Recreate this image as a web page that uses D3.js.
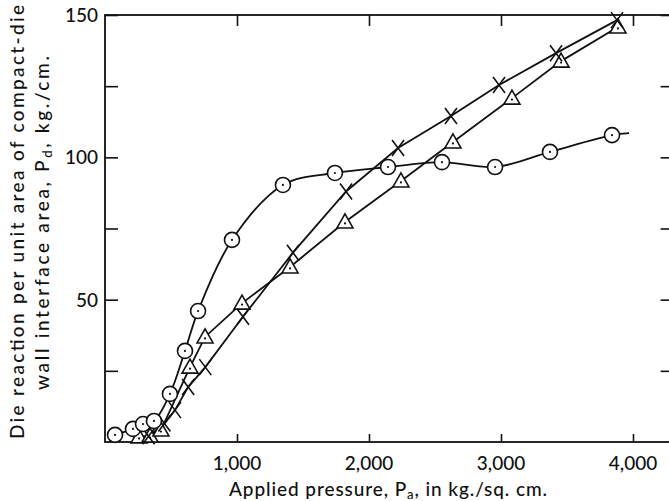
<!DOCTYPE html>
<html>
<head>
<meta charset="utf-8">
<script src="https://cdn.jsdelivr.net/npm/d3@7"></script>
<style>
    body { margin: 0; background: #fff; }
    svg { display: block; }
    text { font-family: Lato, "Open Sans", sans-serif; fill: #111; }
</style>
</head>
<body>
<div id="chart"></div>
<script>
// ---------------------------------------------------------------------------- //
//                                     Data                                     //
// ---------------------------------------------------------------------------- //
// applied pressure (kg./sq. cm.) and die reaction (kg./cm.)
var circleX = [76, 212, 288, 371, 492, 606, 705, 962, 1348, 1742, 2144, 2553, 2955, 3371, 3841];
var circleY = [2.5, 4.6, 6.3, 7.4, 16.9, 32, 46, 71, 90.3, 94.5, 96.6, 98.3, 96.6, 101.9, 107.8];

var crossX = [330, 450, 530, 630, 760, 1045, 1424, 1826, 2220, 2621, 2985, 3417, 3879];
var crossY = [2, 6.5, 11.2, 19.3, 26.3, 44, 66.5, 88, 103.3, 114.5, 125.4, 136.6, 148.2];

var triX = [258, 341, 424, 644, 758, 1038, 1402, 1818, 2242, 2636, 3083, 3455, 3886];
var triY = [1.8, 2.1, 4.2, 26.3, 36.9, 48.8, 61.5, 77.3, 91.7, 105.4, 120.8, 133.8, 145.8];

var xTicks = [1000, 2000, 3000, 4000];
var xTickLabels = ['1,000', '2,000', '3,000', '4,000'];
var yTicks = [25, 50, 75, 100, 125, 150];
var yTickLabels = [50, 100, 150];

// circle curve runs a little past its last point
var circleTailX = 3970;
var circleTailY = 108.5;

// ---------------------------------------------------------------------------- //
//                                    Layout                                    //
// ---------------------------------------------------------------------------- //
var W = 669, H = 501;
var plotLeft = 105, plotTop = 15, plotBottom = 442;
var PX_PER_KG = 0.132;      // horizontal pixels per kg./sq. cm.
var X_DOMAIN_MAX = 4300;    // frame runs off the right side of the picture

var svg = d3.select("#chart")
    .append("svg")
    .attr("width", W)
    .attr("height", H);

var x = d3.scaleLinear()
    .domain([0, X_DOMAIN_MAX])
    .range([plotLeft, plotLeft + X_DOMAIN_MAX * PX_PER_KG]);

var y = d3.scaleLinear()
    .domain([0, 150])
    .range([plotBottom, plotTop]);

var plotRight = x(X_DOMAIN_MAX);

// Frame
//_______________
svg.append("rect")
    .attr("x", plotLeft)
    .attr("y", plotTop)
    .attr("width", plotRight - plotLeft)
    .attr("height", plotBottom - plotTop)
    .attr("fill", "none")
    .attr("stroke", "#111")
    .attr("stroke-width", 1.8);

// Axes (ticks point inward)
//_______________
function styleAxis(g){
    g.select(".domain").remove();
    g.selectAll(".tick line").attr("stroke", "#111").attr("stroke-width", 1.6);
    g.selectAll(".tick text").remove();
}

svg.append("g")
    .attr("transform", "translate(0," + plotBottom + ")")
    .call(d3.axisBottom(x).tickValues(xTicks).tickSize(-8))
    .call(styleAxis);

svg.append("g")
    .attr("transform", "translate(0," + plotTop + ")")
    .call(d3.axisTop(x).tickValues(xTicks).tickSize(-11))
    .call(styleAxis);

svg.append("g")
    .attr("transform", "translate(" + plotLeft + ",0)")
    .call(d3.axisLeft(y).tickValues(yTicks).tickSize(-13))
    .call(styleAxis);

svg.append("g")
    .attr("transform", "translate(" + plotRight + ",0)")
    .call(d3.axisRight(y).tickValues(yTicks).tickSize(-12))
    .call(styleAxis);

// Tick labels
//_______________
svg.selectAll(".xlab")
    .data(xTicks)
    .enter().append("text")
    .attr("x", function(d){ return x(d); })
    .attr("y", plotBottom + 28)
    .attr("text-anchor", "middle")
    .style("font-size", "19px")
    .style("font-weight", 500)
    .text(function(d, i){ return xTickLabels[i]; });

svg.selectAll(".ylab")
    .data(yTickLabels)
    .enter().append("text")
    .attr("x", plotLeft - 7)
    .attr("y", function(d){ return y(d) + 7; })
    .attr("text-anchor", "end")
    .style("font-size", "19px")
    .style("font-weight", 500)
    .text(function(d){ return d; });

// Axis titles
//_______________
var xTitle = svg.append("text")
    .attr("x", 388)
    .attr("y", 496)
    .attr("text-anchor", "middle")
    .attr("textLength", 318)
    .attr("lengthAdjust", "spacing")
    .style("font-size", "19px")
    .style("font-weight", 500);
xTitle.append("tspan").text("Applied pressure, P");
xTitle.append("tspan").attr("dy", 3).style("font-size", "13px").text("a");
xTitle.append("tspan").attr("dy", -3).text(", in kg./sq. cm.");

var yTitle1 = svg.append("text")
    .attr("transform", "translate(24," + 222 + ") rotate(-90)")
    .attr("text-anchor", "middle")
    .attr("textLength", 434)
    .attr("lengthAdjust", "spacing")
    .style("font-size", "19px")
    .style("font-weight", 500)
    .text("Die reaction per unit area of compact-die");

var yTitle2 = svg.append("text")
    .attr("transform", "translate(49," + 223 + ") rotate(-90)")
    .attr("text-anchor", "middle")
    .attr("textLength", 334)
    .attr("lengthAdjust", "spacing")
    .style("font-size", "19px")
    .style("font-weight", 500);
yTitle2.append("tspan").text("wall interface area, P");
yTitle2.append("tspan").attr("dy", 3).style("font-size", "13px").text("d");
yTitle2.append("tspan").attr("dy", -3).text(", kg./cm.");

// ---------------------------------------------------------------------------- //
//                                    Series                                    //
// ---------------------------------------------------------------------------- //
function zipPts(xs, ys){
    return xs.map(function(v, i){ return [v, ys[i]]; });
}
var circlePts = zipPts(circleX, circleY);
var crossPts = zipPts(crossX, crossY);
var triPts = zipPts(triX, triY);

var lineGen = function(curve){
    return d3.line()
        .x(function(d){ return x(d[0]); })
        .y(function(d){ return y(d[1]); })
        .curve(curve);
};

svg.append("path")
    .datum(circlePts.concat([[circleTailX, circleTailY]]))
    .attr("fill", "none")
    .attr("stroke", "#111")
    .attr("stroke-width", 1.8)
    .attr("d", lineGen(d3.curveCatmullRom.alpha(0.5)));

svg.append("path")
    .datum(crossPts)
    .attr("fill", "none")
    .attr("stroke", "#111")
    .attr("stroke-width", 1.8)
    .attr("d", lineGen(d3.curveLinear));

svg.append("path")
    .datum(triPts)
    .attr("fill", "none")
    .attr("stroke", "#111")
    .attr("stroke-width", 1.8)
    .attr("d", lineGen(d3.curveLinear));

// Markers
//_______________
var triG = svg.selectAll(".tri")
    .data(triPts)
    .enter().append("g")
    .attr("transform", function(d){ return "translate(" + x(d[0]) + "," + y(d[1]) + ")"; });
triG.append("path")
    .attr("d", "M0,-8L8,6L-8,6Z")
    .attr("fill", "#fff")
    .attr("stroke", "#111")
    .attr("stroke-width", 1.6);
triG.append("circle").attr("cy", 1.5).attr("r", 1.1).attr("fill", "#111");

var crossG = svg.selectAll(".cross")
    .data(crossPts)
    .enter().append("g")
    .attr("transform", function(d){ return "translate(" + x(d[0]) + "," + y(d[1]) + ")"; });
crossG.append("path")
    .attr("d", "M-6,-8L6,8M6,-8L-6,8")
    .attr("fill", "none")
    .attr("stroke", "#111")
    .attr("stroke-width", 1.6);

var circG = svg.selectAll(".circ")
    .data(circlePts)
    .enter().append("g")
    .attr("transform", function(d){ return "translate(" + x(d[0]) + "," + y(d[1]) + ")"; });
circG.append("circle")
    .attr("r", 7.5)
    .attr("fill", "#fff")
    .attr("stroke", "#111")
    .attr("stroke-width", 1.6);
circG.append("circle").attr("r", 1.1).attr("fill", "#111");
</script>
</body>
</html>
